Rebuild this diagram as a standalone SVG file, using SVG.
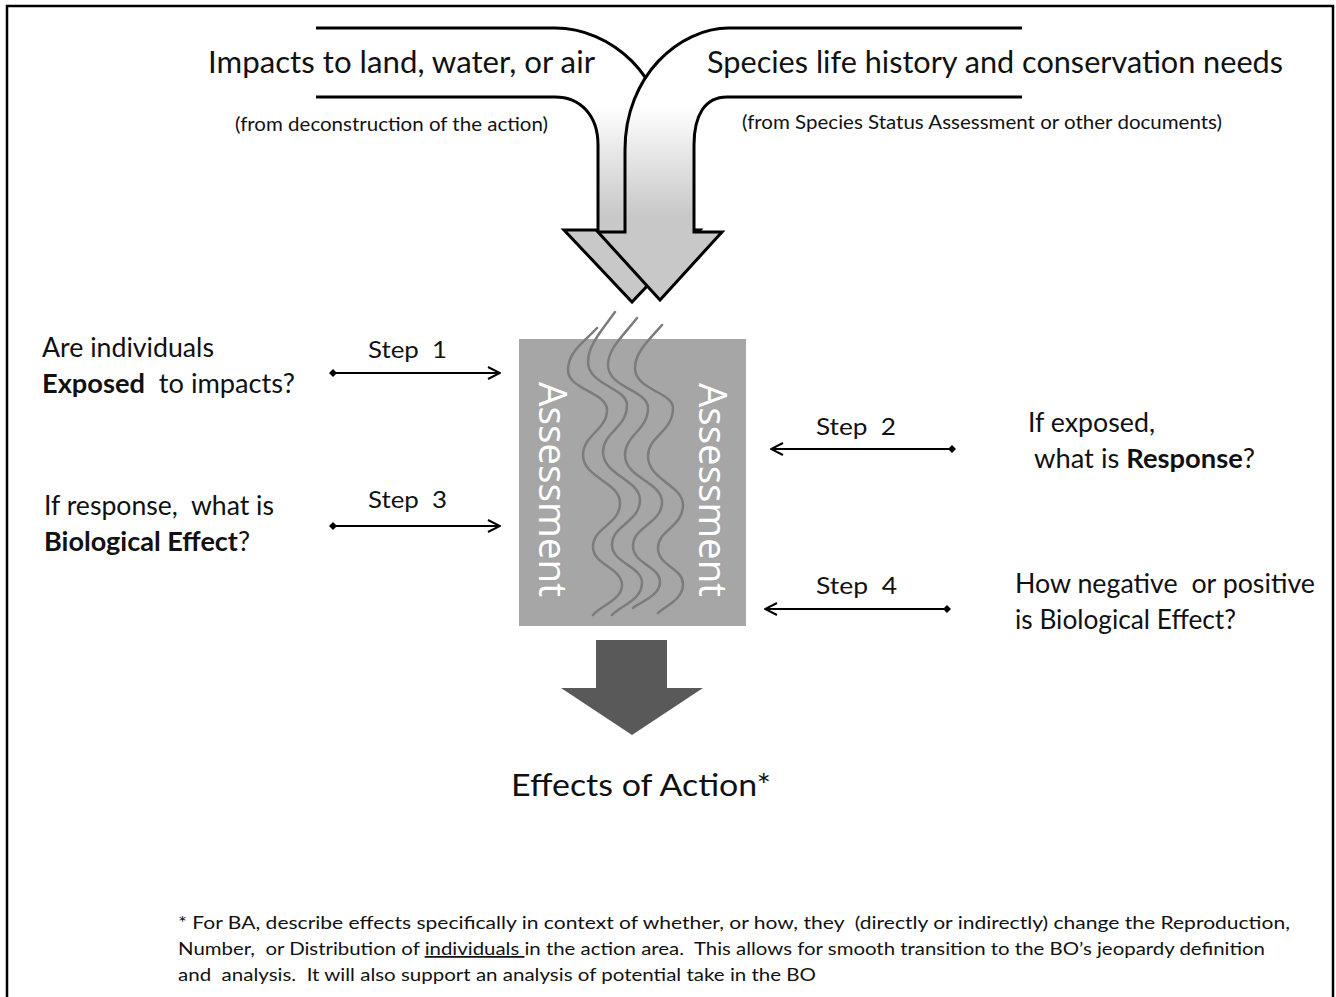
<svg xmlns="http://www.w3.org/2000/svg" width="1336" height="997" viewBox="0 0 1336 997">
  <style>
    .t { font-family: Lato, "Open Sans", "Liberation Sans", sans-serif; fill: #111; white-space: pre; }
    .head { font-size: 30px; }
    .sub { font-size: 19px; }
    .q { font-size: 26px; }
    .step { font-size: 24px; }
    .note { font-size: 17.5px; }
    .b { font-weight: bold; }
    .vert { font-family: "Open Sans", Lato, sans-serif; font-size: 38px; fill: #fff; }
    .band { stroke: #000; stroke-width: 3; stroke-linejoin: miter; fill: url(#bandFill); }
    .wave { fill: none; stroke: #7c7c7c; stroke-width: 2.5; stroke-linecap: round; }
    .link { fill: none; stroke: #000; stroke-width: 2; }
  </style>
  <defs>
    <linearGradient id="bandFill" gradientUnits="userSpaceOnUse" x1="0" y1="105" x2="0" y2="215">
      <stop offset="0" stop-color="#ffffff"/>
      <stop offset="1" stop-color="#c8c8c8"/>
    </linearGradient>
    <marker id="open" viewBox="0 0 14 14" refX="13" refY="7" markerWidth="14" markerHeight="14" orient="auto" markerUnits="userSpaceOnUse">
      <path d="M1,1 L13,7 L1,13" fill="none" stroke="#000" stroke-width="2"/>
    </marker>
    <marker id="dia" viewBox="0 0 8 8" refX="4" refY="4" markerWidth="8" markerHeight="8" orient="auto" markerUnits="userSpaceOnUse">
      <path d="M0,4 L4,0 L8,4 L4,8 Z" fill="#000"/>
    </marker>
  </defs>

  <rect width="1336" height="997" fill="#fff"/>
  <!-- page frame (open at the bottom) -->
  <path d="M7,997 V6 H1333 V997" fill="none" stroke="#000" stroke-width="2.5"/>

  <!-- input arrows -->
  <g id="impacts-arrow">
    <path class="band" d="M316,28 H555 C610,28 667,75 667,150 V230 H700 L632,302 L564,230 H598 V145 C598,115 580,97 555,97 H316"/>
    <text class="t head" x="208" y="73" textLength="387" lengthAdjust="spacingAndGlyphs">Impacts to land, water, or air</text>
    <text class="t sub" x="235" y="131" textLength="313" lengthAdjust="spacingAndGlyphs">(from deconstruction of the action)</text>
  </g>
  <g id="species-arrow">
    <path class="band" d="M1022,28 H729 C680,28 625,75 625,150 V232 H598 L660,300 L722,232 H694 V145 C694,115 705,97 727,97 H1022"/>
    <text class="t head" x="707" y="73" textLength="576" lengthAdjust="spacingAndGlyphs">Species life history and conservation needs</text>
    <text class="t sub" x="742" y="129" textLength="480" lengthAdjust="spacingAndGlyphs">(from Species Status Assessment or other documents)</text>
  </g>

  <!-- assessment block -->
  <g id="assessment">
    <rect x="519" y="339" width="227" height="287" fill="#a6a6a6"/>
    <text class="vert" transform="translate(539,382) rotate(90)" textLength="215" lengthAdjust="spacingAndGlyphs">Assessment</text>
    <text class="vert" transform="translate(699,383) rotate(90)" textLength="214" lengthAdjust="spacingAndGlyphs">Assessment</text>
    <path class="wave" d="M597,328 C584,342 568,352 568,370 C568,390 607,392 607,410 C607,430 583,435 583,455 C583,478 620,482 620,503 C620,525 593,527 593,547 C593,565 622,568 622,585 C622,600 600,606 593,615"/>
    <path class="wave" d="M615,312 C602,330 588,345 588,362 C588,385 627,388 627,405 C627,428 603,432 603,452 C603,475 640,480 640,500 C640,522 612,525 612,545 C612,563 642,566 642,583 C642,600 620,606 612,615"/>
    <path class="wave" d="M637,318 C624,335 608,348 608,365 C608,388 648,390 648,408 C648,430 625,435 625,455 C625,478 662,482 662,502 C662,524 633,526 633,546 C633,564 660,566 660,582 C660,596 640,602 633,608"/>
    <path class="wave" d="M662,325 C649,340 635,352 635,368 C635,390 673,392 673,408 C673,432 648,436 648,456 C648,480 683,485 683,505 C683,527 658,530 658,548 C658,566 683,568 683,584 C683,600 665,606 658,613"/>
  </g>

  <!-- output arrow and result -->
  <g id="effects">
    <path d="M596,640 H667 V688 H703 L632,735 L561,688 H596 Z" fill="#595959"/>
    <text class="t" x="641" y="796" font-size="31" text-anchor="middle" textLength="260" lengthAdjust="spacingAndGlyphs">Effects of Action*</text>
  </g>

  <!-- questions -->
  <g id="q-exposed">
    <text class="t q" x="42" y="357" textLength="172" lengthAdjust="spacingAndGlyphs">Are individuals</text>
    <text class="t q" x="42" y="393" textLength="253" lengthAdjust="spacingAndGlyphs"><tspan class="b">Exposed</tspan>  to impacts?</text>
  </g>
  <g id="q-effect">
    <text class="t q" x="44" y="515" textLength="230" lengthAdjust="spacingAndGlyphs">If response,  what is</text>
    <text class="t q" x="44" y="551" textLength="206" lengthAdjust="spacingAndGlyphs"><tspan class="b">Biological Effect</tspan>?</text>
  </g>
  <g id="q-response">
    <text class="t q" x="1028" y="432" textLength="127" lengthAdjust="spacingAndGlyphs">If exposed,</text>
    <text class="t q" x="1034" y="468" textLength="221" lengthAdjust="spacingAndGlyphs">what is <tspan class="b">Response</tspan>?</text>
  </g>
  <g id="q-sign">
    <text class="t q" x="1015" y="593" textLength="300" lengthAdjust="spacingAndGlyphs">How negative  or positive</text>
    <text class="t q" x="1015" y="629" textLength="221" lengthAdjust="spacingAndGlyphs">is Biological Effect?</text>
  </g>

  <!-- step connectors -->
  <g id="connectors">
    <path class="link" d="M333,373 H500" marker-start="url(#dia)" marker-end="url(#open)"/>
    <path class="link" d="M333,526 H500" marker-start="url(#dia)" marker-end="url(#open)"/>
    <path class="link" d="M952,449 H771" marker-start="url(#dia)" marker-end="url(#open)"/>
    <path class="link" d="M947,609 H765" marker-start="url(#dia)" marker-end="url(#open)"/>
    <text class="t step" x="368" y="358" textLength="79" lengthAdjust="spacingAndGlyphs">Step  1</text>
    <text class="t step" x="368" y="508" textLength="79" lengthAdjust="spacingAndGlyphs">Step  3</text>
    <text class="t step" x="816" y="435" textLength="80" lengthAdjust="spacingAndGlyphs">Step  2</text>
    <text class="t step" x="816" y="594" textLength="81" lengthAdjust="spacingAndGlyphs">Step  4</text>
  </g>

  <!-- footnote -->
  <g id="footnote">
    <text class="t note" x="178" y="929" textLength="1112" lengthAdjust="spacingAndGlyphs">* For BA, describe effects specifically in context of whether, or how, they  (directly or indirectly) change the Reproduction,</text>
    <text class="t note" x="178" y="955" textLength="1087" lengthAdjust="spacingAndGlyphs">Number,  or Distribution of <tspan text-decoration="underline">individuals </tspan>in the action area.  This allows for smooth transition to the BO’s jeopardy definition</text>
    <text class="t note" x="178" y="981" textLength="638" lengthAdjust="spacingAndGlyphs">and  analysis.  It will also support an analysis of potential take in the BO</text>
  </g>
</svg>
